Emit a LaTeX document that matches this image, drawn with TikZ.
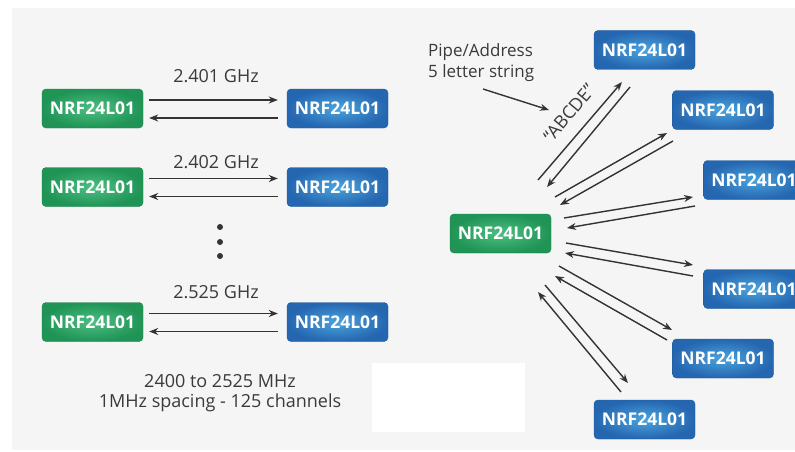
\documentclass[tikz,border=0pt]{standalone}
\usepackage{fontspec}
\setmainfont{Open Sans}
\usetikzlibrary{arrows.meta,calc}
\definecolor{panel}{HTML}{F5F5F5}
\definecolor{gdark}{HTML}{1F9455}
\definecolor{glight}{HTML}{4DBE82}
\definecolor{bdark}{HTML}{2566B0}
\definecolor{blight}{HTML}{4AA3DD}
\definecolor{arr}{HTML}{333333}
\definecolor{txt}{HTML}{3A3A3A}
\tikzset{
 box/.style={rounded corners=4pt, minimum width=101pt, minimum height=39pt, inner sep=0pt, text=white, font=\fontsize{17.5}{20}\selectfont\bfseries},
 gbox/.style={box, draw=gdark!85!black, inner color=glight, outer color=gdark},
 bbox/.style={box, draw=bdark!85!black, inner color=blight, outer color=bdark},
 link/.style={draw=arr, line width=1.4pt, -{Stealth[length=9pt,width=7pt]}},
 lbl/.style={text=txt, font=\fontsize{18}{21}\selectfont, inner sep=0pt},
}
\begin{document}
\begin{tikzpicture}[x=1pt,y=-1pt]
\useasboundingbox (0,0) rectangle (795,452);
\fill[white] (0,0) rectangle (795,452);
\fill[panel] (12,8) rectangle (795,450);
\fill[white] (372,363) rectangle (525,432);
% left side
\node[gbox] (g1) at (92.5,108.5) {NRF24L01};
\node[bbox] (b1) at (337.5,108.5) {NRF24L01};
\node[gbox] (g2) at (92.5,187) {NRF24L01};
\node[bbox] (b2) at (337.5,187) {NRF24L01};
\node[gbox] (g3) at (92.5,322) {NRF24L01};
\node[bbox] (b3) at (337.5,322) {NRF24L01};
\foreach \i in {1,2,3}{
  \draw[link] ([xshift=6pt,yshift=8.5pt]g\i.east) -- ([xshift=-9pt,yshift=8.5pt]b\i.west);
  \draw[link] ([xshift=-9pt,yshift=-9.5pt]b\i.west) -- ([xshift=6pt,yshift=-9.5pt]g\i.east);
}
\node[lbl] (f1) at (216,76) {2.401 GHz};
\node[lbl] (f2) at (216,162) {2.402 GHz};
\node[lbl] (f3) at (216,292) {2.525 GHz};
\foreach \y in {227,242,256}{\fill[arr] (220,\y) circle (3pt);}
\node[lbl] (n1) at (220,381) {2400 to 2525 MHz};
\node[lbl] (n2) at (220,403) {1MHz spacing - 125 channels};
% right side
\node[gbox] (c) at (500.5,233.5) {NRF24L01};
\node[bbox] (r1) at (644.5,50) {NRF24L01};
\node[bbox] (r2) at (723,110) {NRF24L01};
\node[bbox] (r3) at (754,180) {NRF24L01};
\node[bbox] (r4) at (754,289) {NRF24L01};
\node[bbox] (r5) at (723,358.5) {NRF24L01};
\node[bbox] (r6) at (644.5,419.5) {NRF24L01};
\foreach \n/\ax/\ay/\bx/\by/\cx/\cy/\dx/\dy in {
  1/538/180/622/82/630/87/547/187,
  2/555/197/667/133/673/141/560/205,
  3/564/218/693/197/695/206/567/228,
  4/566/243/693/265/693/276/565/253,
  5/559/266/672/330/667/340/555/276,
  6/545/285/628/383/621/392/538/292}{
  \coordinate (o\n) at (\ax,\ay);
  \coordinate (t\n) at (\bx,\by);
  \coordinate (s\n) at (\cx,\cy);
  \coordinate (e\n) at (\dx,\dy);
  \draw[link] (o\n) -- (t\n);
  \draw[link] (s\n) -- (e\n);
}
\node[lbl, anchor=west, font=\fontsize{17}{20}\selectfont] (pa1) at (428,52) {Pipe/Address};
\node[lbl, anchor=west, font=\fontsize{17}{20}\selectfont] (pa2) at (428,73) {5 letter string};
\coordinate (pas) at (483,89);
\coordinate (pae) at (549,110);
\draw[link] (pas) -- (pae);
\node[lbl, rotate=50, font=\fontsize{18}{20}\selectfont] (abc) at (569,113) {“ABCDE”};
\end{tikzpicture}
\end{document}
